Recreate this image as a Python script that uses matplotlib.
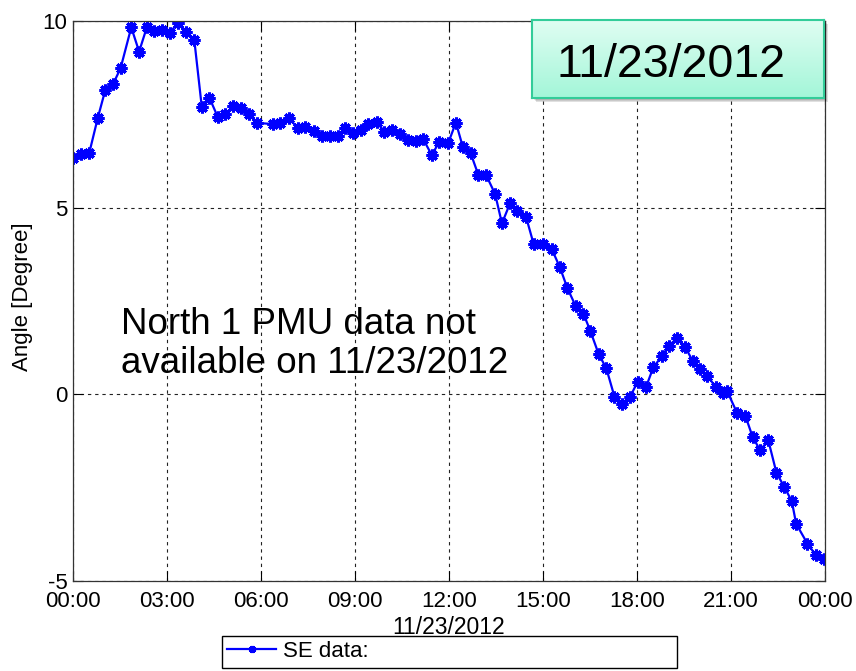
import matplotlib
matplotlib.use("Agg")
import matplotlib.pyplot as plt
import numpy as np
from matplotlib.patches import Rectangle

plt.rcParams["font.family"] = ["Liberation Sans", "DejaVu Sans"]
plt.rcParams["axes.unicode_minus"] = False

# Angle samples (hours since midnight, degrees)
HOURS = [
    0.00, 0.26, 0.52, 0.79, 1.03, 1.28, 1.52, 1.86, 2.11, 2.36, 2.60, 2.84,
    3.10, 3.34, 3.62, 3.87, 4.11, 4.35, 4.62, 4.85, 5.11, 5.35, 5.61, 5.87,
    6.37, 6.61, 6.89, 7.17, 7.42, 7.68, 7.95, 8.19, 8.45, 8.68, 8.93, 9.19,
    9.42, 9.69, 9.94, 10.17, 10.44, 10.70, 10.95, 11.18, 11.45, 11.69, 11.97,
    12.22, 12.44, 12.69, 12.94, 13.18, 13.47, 13.69, 13.95, 14.18, 14.46,
    14.70, 15.01, 15.28, 15.54, 15.78, 16.04, 16.29, 16.51, 16.78, 17.02,
    17.28, 17.51, 17.78, 18.02, 18.29, 18.52, 18.79, 19.02, 19.27, 19.53,
    19.78, 20.01, 20.24, 20.51, 20.74, 20.88, 21.20, 21.46, 21.69, 21.93,
    22.19, 22.45, 22.70, 22.94, 23.08, 23.44, 23.71, 23.96,
]
ANGLES = [
    6.32, 6.44, 6.47, 7.40, 8.15, 8.31, 8.74, 9.83, 9.18, 9.84, 9.74, 9.77,
    9.69, 9.95, 9.71, 9.50, 7.70, 7.95, 7.43, 7.50, 7.71, 7.68, 7.52, 7.27,
    7.24, 7.27, 7.39, 7.14, 7.17, 7.06, 6.93, 6.93, 6.93, 7.13, 7.01, 7.08,
    7.24, 7.29, 7.04, 7.08, 6.96, 6.80, 6.78, 6.83, 6.41, 6.76, 6.72,
    7.28, 6.63, 6.46, 5.87, 5.88, 5.37, 4.58, 5.12, 4.91, 4.75,
    4.03, 4.04, 3.89, 3.40, 2.84, 2.37, 2.16, 1.70, 1.07, 0.70,
    -0.06, -0.25, -0.07, 0.34, 0.20, 0.72, 1.02, 1.30, 1.50, 1.28,
    0.89, 0.67, 0.50, 0.20, 0.04, 0.08, -0.51, -0.58, -1.14, -1.50,
    -1.23, -2.10, -2.48, -2.86, -3.47, -4.00, -4.31, -4.42,
]

X_TICKS = [0, 3, 6, 9, 12, 15, 18, 21, 24]
X_TICK_LABELS = ["00:00", "03:00", "06:00", "09:00", "12:00",
                 "15:00", "18:00", "21:00", "00:00"]
Y_TICKS = [-5, 0, 5, 10]

DATE = "11/23/2012"
NOTE = "North 1 PMU data not\navailable on 11/23/2012"

W, H = 856, 671
fig = plt.figure(figsize=(W / 100, H / 100), dpi=100)
ax = fig.add_axes([73 / W, 1 - 581 / H, 752 / W, 560 / H])

line, = ax.plot(HOURS, ANGLES, color="#0000ff", linewidth=1.6,
                marker=(8, 2, 0), markersize=8.5, markeredgewidth=2.2,
                markeredgecolor="#0000ff", markerfacecolor="#0000ff")

ax.set_xlim(0, 24)
ax.set_ylim(-5, 10)
ax.set_xticks(X_TICKS, labels=X_TICK_LABELS)
ax.set_yticks(Y_TICKS)
ax.grid(True, color="#222222", linestyle=(0, (3, 3.5)), linewidth=0.8)
ax.tick_params(direction="in", top=True, right=True, length=7, width=0.8,
               labelsize=16)
ax.tick_params(axis="x", pad=7)
ax.tick_params(axis="y", pad=4)
for spine in ax.spines.values():
    spine.set_color("#333333")
    spine.set_linewidth(0.9)

ax.set_xlabel(DATE, fontsize=16.5)
ax.xaxis.set_label_coords(0.5, -0.062)
ax.xaxis.label.set_va("top")
ax.set_ylabel("Angle [Degree]", fontsize=16)
ax.yaxis.set_label_coords(-0.053, 0.508)

# multi-line baseline alignment uses the last line
ax.text((120.7 - 73) / 752, (581 - 373.3) / 560, NOTE, transform=ax.transAxes,
        fontsize=26.5, ha="left", va="baseline", linespacing=1.17)

# date badge in the upper right corner
bx0, by0, bx1, by1 = 531.7, 20, 824, 98.3
for k, a in enumerate([0.10, 0.10, 0.12]):
    off = 2 + k
    fig.patches.append(Rectangle(((bx0 + off) / W, 1 - (by1 + off) / H),
                                 (bx1 - bx0) / W, (by1 - by0) / H,
                                 transform=fig.transFigure, facecolor="black",
                                 edgecolor="none", alpha=a, zorder=3))
bax = fig.add_axes([bx0 / W, 1 - by1 / H, (bx1 - bx0) / W, (by1 - by0) / H],
                   zorder=4)
grad = np.linspace(0, 1, 64)[:, None]
top_c = np.array([0.88, 0.995, 0.95])
bot_c = np.array([0.64, 0.965, 0.85])
img = top_c[None, None, :] * (1 - grad[:, :, None]) + bot_c[None, None, :] * grad[:, :, None]
bax.imshow(img, aspect="auto", extent=[0, 1, 0, 1])
bax.set_xticks([])
bax.set_yticks([])
for spine in bax.spines.values():
    spine.set_color("#33cc99")
    spine.set_linewidth(1.5)
bax.text((670.7 - bx0) / (bx1 - bx0), (by1 - 77.3) / (by1 - by0), DATE,
         transform=bax.transAxes, fontsize=33.5, ha="center", va="baseline")

fig.legend(handles=[line], labels=["SE data:"], loc="upper left",
           bbox_to_anchor=(221.7 / W, 0, 455 / W, 1 - 635.7 / H),
           mode="expand", borderaxespad=0, fancybox=False,
           edgecolor="black", framealpha=1, borderpad=0.25,
           handlelength=2.2, handletextpad=0.3, markerscale=0.6,
           fontsize=16)

fig.savefig("out.png", dpi=100)
